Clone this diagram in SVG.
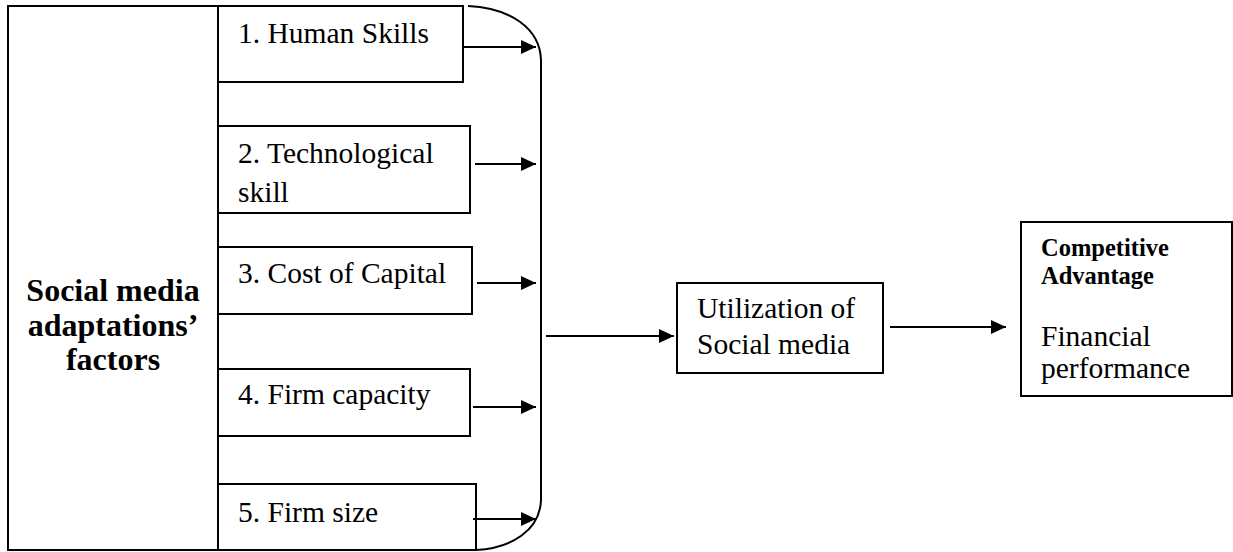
<svg xmlns="http://www.w3.org/2000/svg" width="1233" height="552" viewBox="0 0 1233 552">
<style>
.box{fill:#fff;stroke:#000;stroke-width:2}
.t{font-family:"Liberation Serif","Times New Roman",serif;font-size:29.5px;fill:#000}
.b{font-family:"Liberation Serif","Times New Roman",serif;font-weight:bold;fill:#000}
.c{fill:none;stroke:#000;stroke-width:2}
</style>
<defs>
<marker id="ah" markerUnits="userSpaceOnUse" markerWidth="16" markerHeight="14" refX="15" refY="7" orient="auto">
<path d="M0,0 L15,7 L0,14 z" fill="#000"/>
</marker>
</defs>
<g id="factors">
<rect class="box" x="8" y="6" width="210" height="544"/>
<text class="b" font-size="32" text-anchor="middle"><tspan x="113" y="301">Social media</tspan><tspan x="113" y="336">adaptations’</tspan><tspan x="113" y="370">factors</tspan></text>
</g>
<g id="f1"><rect class="box" x="218" y="6" width="245" height="76"/><text class="t" x="238" y="43">1. Human Skills</text></g>
<g id="f2"><rect class="box" x="218" y="126" width="252" height="87"/><text class="t"><tspan x="238" y="163">2. Technological</tspan><tspan x="238" y="202">skill</tspan></text></g>
<g id="f3"><rect class="box" x="218" y="247" width="254" height="67"/><text class="t" x="238" y="283">3. Cost of Capital</text></g>
<g id="f4"><rect class="box" x="218" y="369" width="252" height="67"/><text class="t" x="238" y="404">4. Firm capacity</text></g>
<g id="f5"><rect class="box" x="218" y="484" width="258" height="66"/><text class="t" x="238" y="522">5. Firm size</text></g>
<g id="util"><rect class="box" x="677" y="283" width="206" height="90"/><text class="t" font-size="27.5"><tspan x="697" y="318">Utilization of</tspan><tspan x="697" y="354">Social media</tspan></text></g>
<g id="comp"><rect class="box" x="1021" y="222" width="211" height="174"/>
<text class="b" font-size="24.5"><tspan x="1041" y="256">Competitive</tspan><tspan x="1041" y="284">Advantage</tspan></text>
<text class="t" font-size="25"><tspan x="1041" y="346">Financial</tspan><tspan x="1041" y="378">performance</tspan></text></g>
<g id="connectors">
<path class="c" d="M468,6 C510,8 540,28 541,60 L541,500 C540,530 512,548 476,550"/>
<line class="c" x1="464" y1="47" x2="536" y2="47" marker-end="url(#ah)"/>
<line class="c" x1="475" y1="164" x2="536" y2="164" marker-end="url(#ah)"/>
<line class="c" x1="477" y1="283" x2="536" y2="283" marker-end="url(#ah)"/>
<line class="c" x1="473" y1="407" x2="536" y2="407" marker-end="url(#ah)"/>
<line class="c" x1="473" y1="519" x2="536" y2="519" marker-end="url(#ah)"/>
<line class="c" x1="546" y1="336" x2="674" y2="336" marker-end="url(#ah)"/>
<line class="c" x1="890" y1="327" x2="1006" y2="327" marker-end="url(#ah)"/>
</g>
</svg>
